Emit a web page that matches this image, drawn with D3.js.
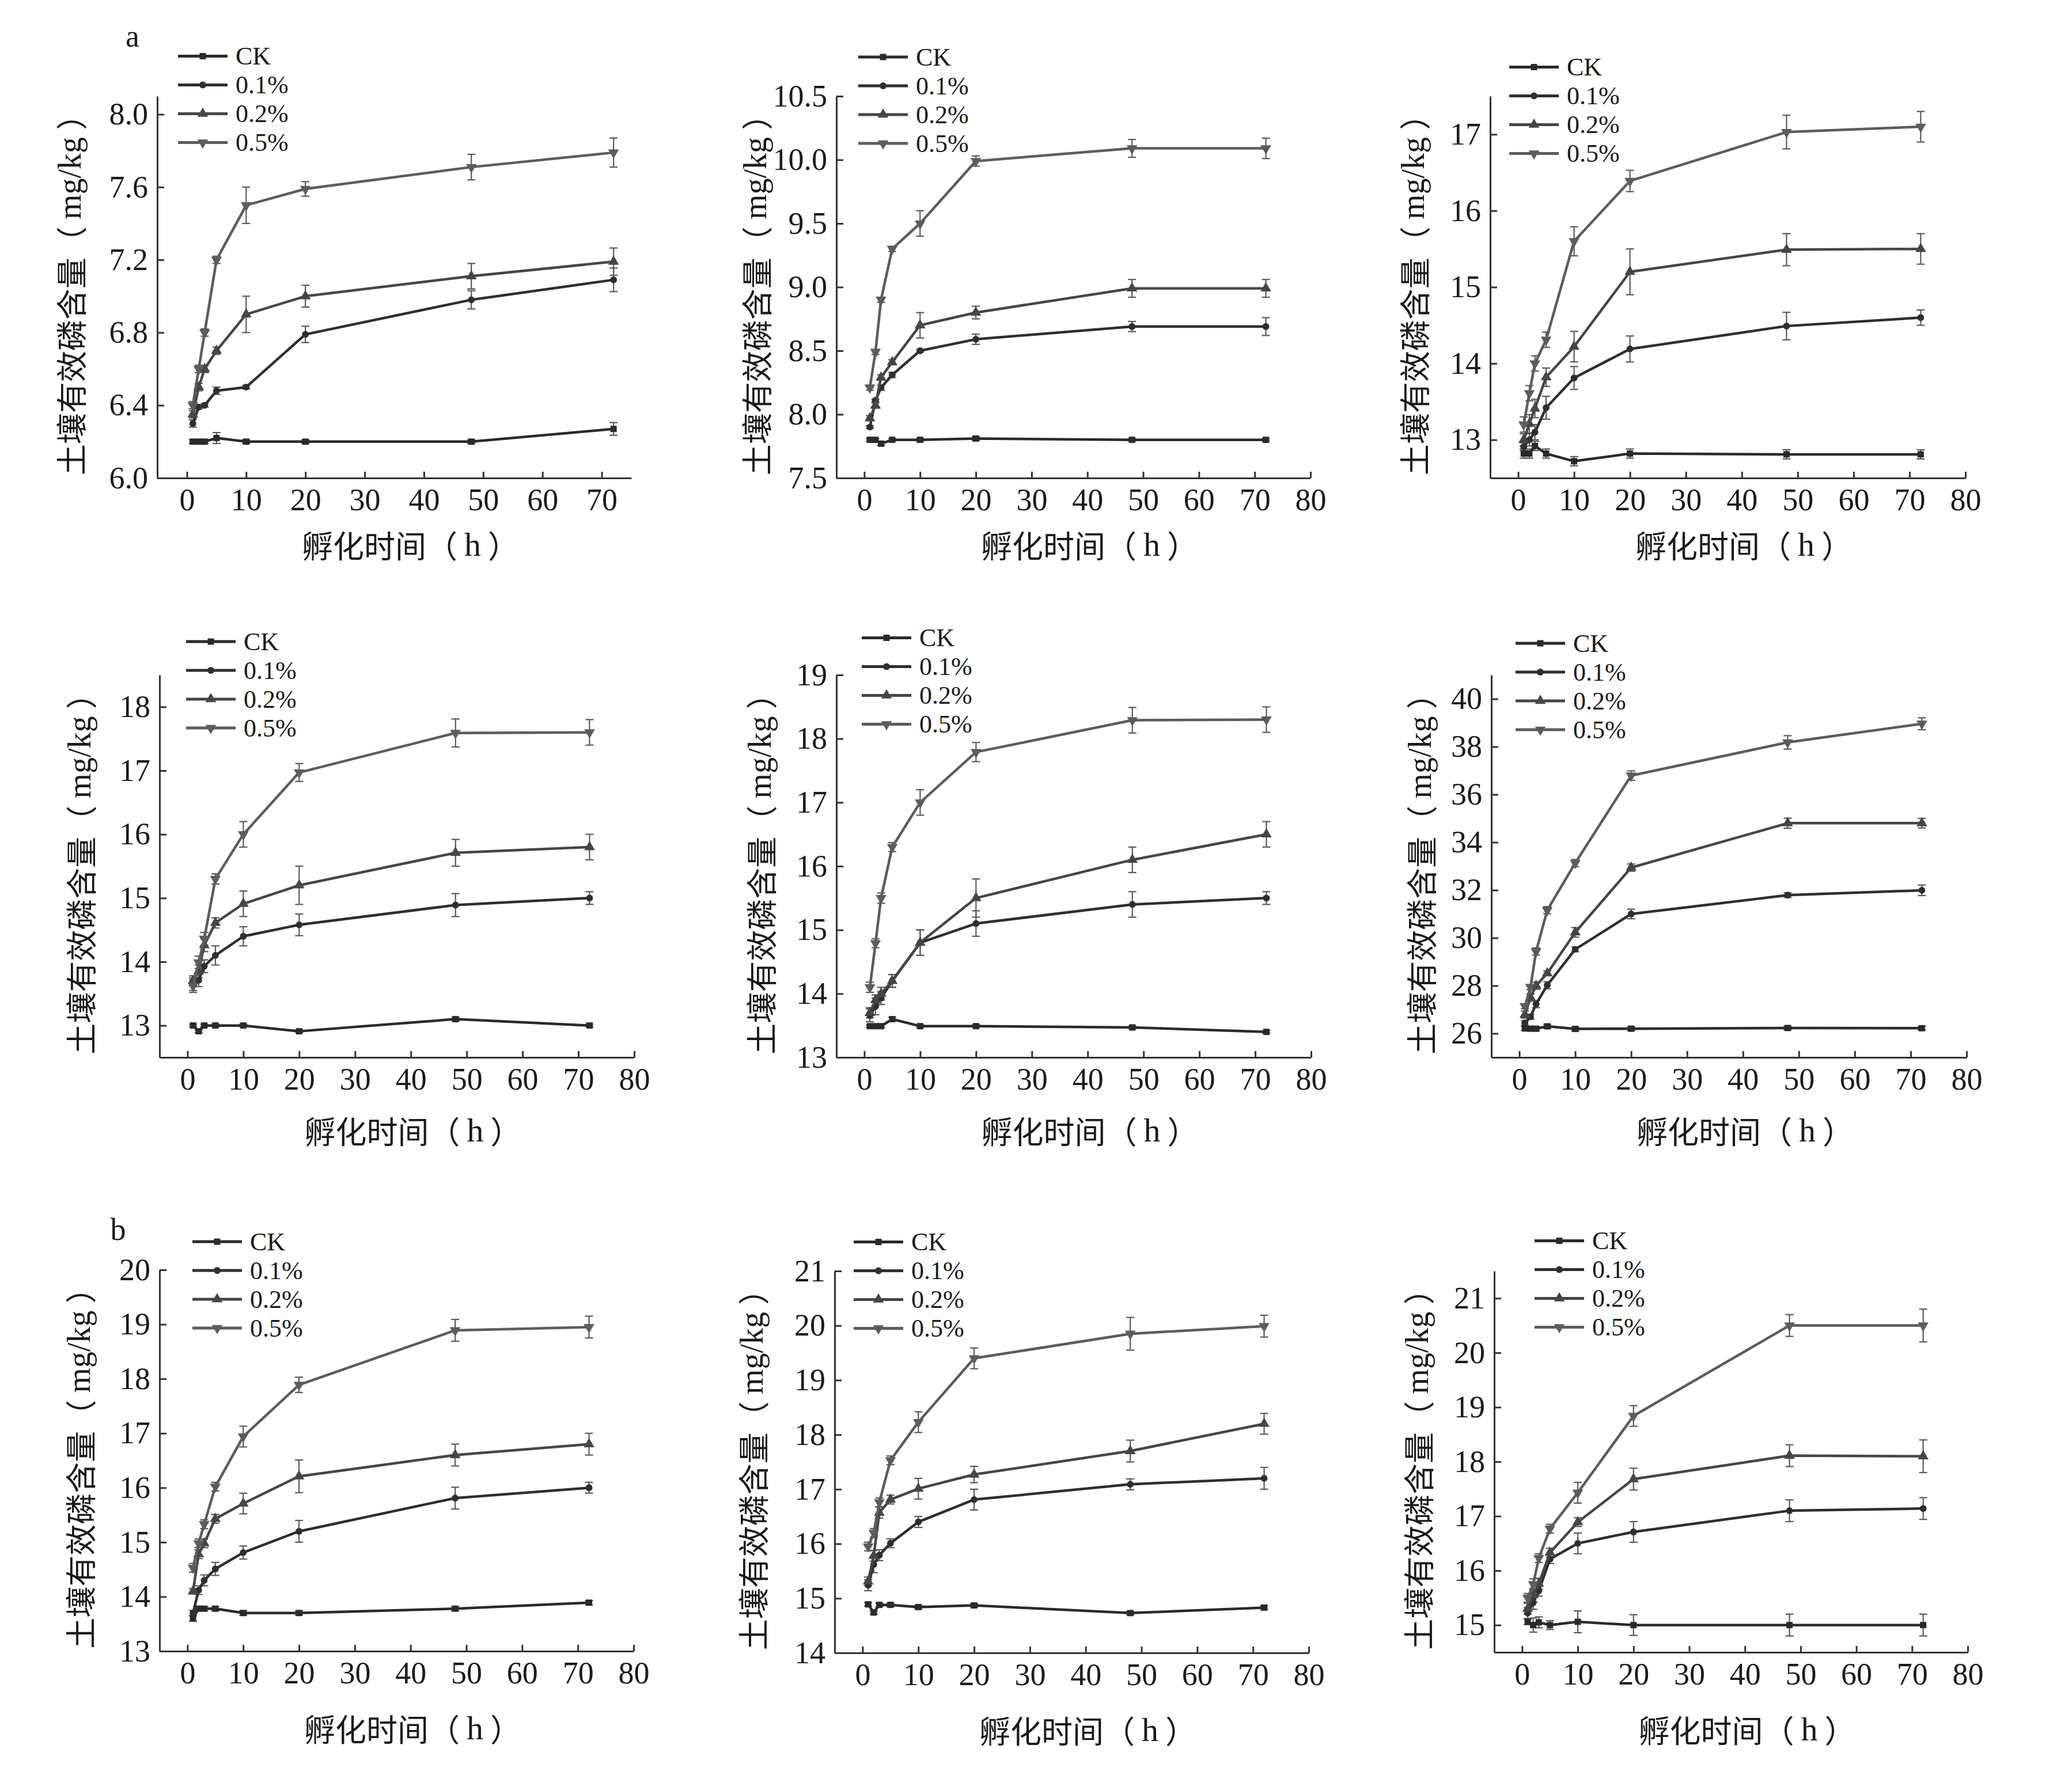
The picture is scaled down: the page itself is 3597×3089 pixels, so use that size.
<!DOCTYPE html>
<html>
<head>
<meta charset="utf-8">
<script src="https://cdn.jsdelivr.net/npm/d3@7"></script>
<style>
  html, body { margin: 0; padding: 0; background: #fff; }
  svg { display: block; }
</style>
</head>
<body>
<div id="chart"></div>
<script>
// ---------------- DATA ----------------
const times = [1, 2, 3, 5, 10, 20, 48, 72];
const seriesNames = ["CK", "0.1%", "0.2%", "0.5%"];
const yTitleCJK = "土壤有效磷含量（ ";
const yTitleLatin = "mg/kg";
const xTitleCJK = "孵化时间（ ";
const xTitleLatin = "h";
const panelLetters = ["a", "b"];

const xTicksShort = [0, 10, 20, 30, 40, 50, 60, 70];
const xTicksLong = [0, 10, 20, 30, 40, 50, 60, 70, 80];

// Panel 1 (row 1, left)
const p1Means = [
  [6.20, 6.20, 6.20, 6.22, 6.20, 6.20, 6.20, 6.27],
  [6.30, 6.39, 6.40, 6.48, 6.50, 6.79, 6.98, 7.09],
  [6.35, 6.50, 6.60, 6.70, 6.90, 7.00, 7.11, 7.19],
  [6.40, 6.60, 6.80, 7.20, 7.50, 7.59, 7.71, 7.79]
];
const p1Errors = [
  [0.01, 0.01, 0.01, 0.03, 0.01, 0.01, 0.01, 0.035],
  [0.02, 0.01, 0.01, 0.02, 0.01, 0.045, 0.05, 0.065],
  [0.02, 0.02, 0.02, 0.02, 0.10, 0.06, 0.07, 0.075],
  [0.02, 0.02, 0.02, 0.02, 0.10, 0.04, 0.07, 0.08]
];
const p1YTicks = [6.0, 6.4, 6.8, 7.2, 7.6, 8.0];

// Panel 2 (row 1, middle)
const p2Means = [
  [7.80, 7.80, 7.77, 7.80, 7.80, 7.81, 7.80, 7.80],
  [7.90, 8.11, 8.21, 8.31, 8.50, 8.59, 8.69, 8.69],
  [7.97, 8.07, 8.29, 8.41, 8.70, 8.80, 8.99, 8.99],
  [8.21, 8.49, 8.90, 9.30, 9.50, 9.99, 10.09, 10.09]
];
const p2Errors = [
  [0.01, 0.01, 0.015, 0.01, 0.01, 0.015, 0.01, 0.01],
  [0.01, 0.01, 0.02, 0.02, 0.01, 0.04, 0.04, 0.07],
  [0.02, 0.02, 0.02, 0.02, 0.10, 0.05, 0.07, 0.07],
  [0.02, 0.02, 0.02, 0.02, 0.10, 0.04, 0.07, 0.08]
];
const p2YTicks = [7.5, 8.0, 8.5, 9.0, 9.5, 10.0, 10.5];

// Panel 3 (row 1, right)
const p3Means = [
  [12.82, 12.82, 12.92, 12.82, 12.72, 12.82, 12.81, 12.81],
  [12.91, 13.00, 13.10, 13.42, 13.81, 14.19, 14.49, 14.60],
  [13.00, 13.21, 13.41, 13.82, 14.22, 15.20, 15.49, 15.50],
  [13.20, 13.61, 14.00, 14.31, 15.60, 16.39, 17.03, 17.10]
];
const p3Errors = [
  [0.06, 0.06, 0.06, 0.06, 0.06, 0.06, 0.06, 0.06],
  [0.05, 0.08, 0.10, 0.15, 0.15, 0.17, 0.18, 0.10],
  [0.08, 0.12, 0.12, 0.12, 0.20, 0.30, 0.21, 0.20],
  [0.10, 0.10, 0.10, 0.10, 0.19, 0.14, 0.22, 0.20]
];
const p3YTicks = [13, 14, 15, 16, 17];

// Panel 4 (row 2, left)
const p4Means = [
  [13.00, 12.91, 13.00, 13.00, 13.00, 12.91, 13.10, 13.00],
  [13.65, 13.71, 13.93, 14.10, 14.40, 14.58, 14.89, 15.00],
  [13.70, 13.85, 14.26, 14.61, 14.91, 15.20, 15.71, 15.80],
  [13.62, 13.99, 14.36, 15.30, 16.00, 16.97, 17.59, 17.60]
];
const p4Errors = [
  [0.02, 0.02, 0.02, 0.02, 0.02, 0.02, 0.03, 0.02],
  [0.10, 0.10, 0.10, 0.15, 0.15, 0.17, 0.18, 0.10],
  [0.08, 0.10, 0.10, 0.08, 0.20, 0.30, 0.21, 0.20],
  [0.10, 0.10, 0.10, 0.08, 0.20, 0.14, 0.22, 0.20]
];
const p4YTicks = [13, 14, 15, 16, 17, 18];

// Panel 5 (row 2, middle)
const p5Means = [
  [13.49, 13.49, 13.49, 13.60, 13.49, 13.49, 13.47, 13.40],
  [13.66, 13.80, 13.93, 14.20, 14.80, 15.10, 15.40, 15.50],
  [13.70, 13.90, 14.00, 14.20, 14.80, 15.50, 16.10, 16.50],
  [14.10, 14.79, 15.50, 16.30, 17.00, 17.79, 18.29, 18.30]
];
const p5Errors = [
  [0.02, 0.02, 0.02, 0.03, 0.02, 0.02, 0.02, 0.02],
  [0.10, 0.13, 0.10, 0.10, 0.20, 0.20, 0.20, 0.10],
  [0.08, 0.08, 0.10, 0.10, 0.20, 0.30, 0.20, 0.20],
  [0.08, 0.07, 0.08, 0.07, 0.20, 0.15, 0.20, 0.20]
];
const p5YTicks = [13, 14, 15, 16, 17, 18, 19];

// Panel 6 (row 2, right)
const p6Means = [
  [26.21, 26.20, 26.20, 26.30, 26.19, 26.20, 26.23, 26.22],
  [26.44, 26.70, 27.23, 28.02, 29.52, 31.00, 31.79, 31.99],
  [26.79, 27.50, 28.00, 28.52, 30.23, 32.94, 34.80, 34.80],
  [27.14, 27.94, 29.43, 31.16, 33.13, 36.79, 38.18, 38.96]
];
const p6Errors = [
  [0.08, 0.08, 0.08, 0.08, 0.08, 0.08, 0.08, 0.08],
  [0.10, 0.10, 0.15, 0.15, 0.10, 0.20, 0.10, 0.22],
  [0.15, 0.15, 0.15, 0.10, 0.20, 0.15, 0.21, 0.20],
  [0.10, 0.10, 0.15, 0.15, 0.15, 0.20, 0.28, 0.25]
];
const p6YTicks = [26, 28, 30, 32, 34, 36, 38, 40];

// Panel 7 (row 3, left)
const p7Means = [
  [13.60, 13.78, 13.78, 13.78, 13.70, 13.70, 13.78, 13.89],
  [13.70, 14.12, 14.30, 14.51, 14.81, 15.20, 15.81, 16.00],
  [14.10, 14.78, 14.98, 15.43, 15.71, 16.21, 16.60, 16.80],
  [14.53, 14.98, 15.33, 16.02, 16.94, 17.89, 18.89, 18.95]
];
const p7Errors = [
  [0.05, 0.04, 0.04, 0.04, 0.04, 0.04, 0.04, 0.04],
  [0.05, 0.08, 0.10, 0.12, 0.12, 0.20, 0.20, 0.10],
  [0.05, 0.08, 0.08, 0.08, 0.19, 0.30, 0.20, 0.20],
  [0.08, 0.08, 0.08, 0.08, 0.19, 0.14, 0.20, 0.20]
];
const p7YTicks = [13, 14, 15, 16, 17, 18, 19, 20];

// Panel 8 (row 3, middle)
const p8Means = [
  [14.89, 14.74, 14.88, 14.88, 14.84, 14.87, 14.73, 14.83],
  [15.24, 15.62, 15.79, 16.01, 16.40, 16.81, 17.09, 17.20],
  [15.31, 15.78, 16.57, 16.81, 17.01, 17.27, 17.70, 18.20],
  [15.95, 16.20, 16.76, 17.53, 18.23, 19.40, 19.85, 19.99]
];
const p8Errors = [
  [0.03, 0.03, 0.03, 0.03, 0.03, 0.03, 0.03, 0.03],
  [0.10, 0.15, 0.10, 0.08, 0.10, 0.19, 0.10, 0.20],
  [0.08, 0.10, 0.10, 0.08, 0.19, 0.15, 0.20, 0.19],
  [0.08, 0.08, 0.08, 0.08, 0.19, 0.19, 0.30, 0.20]
];
const p8YTicks = [14, 15, 16, 17, 18, 19, 20, 21];

// Panel 9 (row 3, right)
const p9Means = [
  [15.06, 15.00, 15.05, 15.00, 15.06, 15.00, 15.00, 15.00],
  [15.22, 15.41, 15.63, 16.21, 16.50, 16.71, 17.10, 17.14],
  [15.30, 15.55, 15.76, 16.33, 16.89, 17.68, 18.11, 18.10],
  [15.50, 15.75, 16.23, 16.77, 17.43, 18.84, 20.50, 20.50]
];
const p9Errors = [
  [0.05, 0.13, 0.10, 0.08, 0.20, 0.19, 0.20, 0.20],
  [0.10, 0.12, 0.10, 0.08, 0.19, 0.19, 0.20, 0.20],
  [0.10, 0.12, 0.10, 0.08, 0.08, 0.20, 0.20, 0.30],
  [0.08, 0.10, 0.08, 0.08, 0.19, 0.19, 0.20, 0.30]
];
const p9YTicks = [15, 16, 17, 18, 19, 20, 21];

// ---------------- LAYOUT / STYLE ----------------
const W = 3597, H = 3089;
const serif = "'Liberation Serif', 'Times New Roman', serif";
const cjk = "'Noto Sans CJK SC', 'Noto Sans CJK JP', sans-serif";
const lineColors = ["#2a2a2a", "#2e2e2e", "#464646", "#5c5c5c"];
const errColor = "#5a5a5a";
const symbols = [d3.symbolSquare, d3.symbolCircle, d3.symbolTriangle, d3.symbolTriangle];
const symbolSizes = [120, 110, 150, 150];
const symbolRotate = [0, 0, 0, 180];
const legendFont = 44;
const legendGap = 50;

const panels = [
  { means: p1Means, errs: p1Errors, yTicks: p1YTicks, yDom: [6.0, 8.1], xDom: [-5, 75], xTicks: xTicksShort, fmt: ".1f",
    left: 273, right: 1096, top: 167, bottom: 830, legDx: 36, legDy: -62, legGap: 45, yTitleDx: -152, xTitleDy: 115 },
  { means: p2Means, errs: p2Errors, yTicks: p2YTicks, yDom: [7.5, 10.5], xDom: [-5, 80], xTicks: xTicksLong, fmt: ".1f",
    left: 1452, right: 2275, top: 167, bottom: 830, legDx: 38, legDy: -65, legGap: 48, yTitleDx: -141, xTitleDy: 115 },
  { means: p3Means, errs: p3Errors, yTicks: p3YTicks, yDom: [12.5, 17.5], xDom: [-5, 80], xTicks: xTicksLong, fmt: "d",
    left: 2587, right: 3412, top: 167, bottom: 830, legDx: 33, legDy: -46, legGap: 47, yTitleDx: -134, xTitleDy: 115 },
  { means: p4Means, errs: p4Errors, yTicks: p4YTicks, yDom: [12.5, 18.5], xDom: [-5, 80], xTicks: xTicksLong, fmt: "d",
    left: 277, right: 1101, top: 1172, bottom: 1836, legDx: 46, legDy: -55, legGap: 48, yTitleDx: -139, xTitleDy: 126 },
  { means: p5Means, errs: p5Errors, yTicks: p5YTicks, yDom: [13, 19], xDom: [-5, 80], xTicks: xTicksLong, fmt: "d",
    left: 1452, right: 2276, top: 1172, bottom: 1836, legDx: 44, legDy: -60, legGap: 47, yTitleDx: -133, xTitleDy: 126 },
  { means: p6Means, errs: p6Errors, yTicks: p6YTicks, yDom: [25, 41], xDom: [-5, 80], xTicks: xTicksLong, fmt: "d",
    left: 2589, right: 3414, top: 1172, bottom: 1836, legDx: 42, legDy: -52, legGap: 48, yTitleDx: -124, xTitleDy: 126 },
  { means: p7Means, errs: p7Errors, yTicks: p7YTicks, yDom: [13, 20], xDom: [-5, 80], xTicks: xTicksLong, fmt: "d",
    left: 277, right: 1100, top: 2205, bottom: 2867, legDx: 57, legDy: -46, legGap: 48, yTitleDx: -140, xTitleDy: 133 },
  { means: p8Means, errs: p8Errors, yTicks: p8YTicks, yDom: [14, 21], xDom: [-5, 80], xTicks: xTicksLong, fmt: "d",
    left: 1449, right: 2272, top: 2207, bottom: 2870, legDx: 33, legDy: -46, legGap: 47, yTitleDx: -144, xTitleDy: 133 },
  { means: p9Means, errs: p9Errors, yTicks: p9YTicks, yDom: [14.5, 21.5], xDom: [-5, 80], xTicks: xTicksLong, fmt: "d",
    left: 2594, right: 3416, top: 2207, bottom: 2869, legDx: 70, legDy: -48, legGap: 47, yTitleDx: -134, xTitleDy: 133 }
];

const svg = d3.select("#chart").append("svg")
  .attr("width", W).attr("height", H)
  .attr("viewBox", `0 0 ${W} ${H}`);
svg.append("rect").attr("width", W).attr("height", H).attr("fill", "#fff");

function symbolPath(i) {
  return d3.symbol().type(symbols[i]).size(symbolSizes[i])();
}

function drawPanel(p) {
  const g = svg.append("g");
  const x = d3.scaleLinear().domain(p.xDom).range([p.left, p.right]);
  const y = d3.scaleLinear().domain(p.yDom).range([p.bottom, p.top]);

  // X axis
  const xa = g.append("g").attr("transform", `translate(0,${p.bottom})`)
    .call(d3.axisBottom(x).tickValues(p.xTicks).tickSizeInner(-11).tickSizeOuter(0).tickPadding(18).tickFormat(d3.format("d")));
  // Y axis
  const ya = g.append("g").attr("transform", `translate(${p.left},0)`)
    .call(d3.axisLeft(y).tickValues(p.yTicks).tickSizeInner(-12).tickSizeOuter(0).tickPadding(16).tickFormat(d3.format(p.fmt)));
  [xa, ya].forEach(a => {
    a.attr("font-family", serif).attr("font-size", 54);
    a.selectAll("path.domain").attr("stroke", "#333").attr("stroke-width", 3);
    a.selectAll(".tick line").attr("stroke", "#333").attr("stroke-width", 3);
    a.selectAll(".tick text").attr("fill", "#1a1a1a");
  });

  // Error bars
  p.means.forEach((ser, si) => {
    const eg = g.append("g").attr("stroke", errColor).attr("stroke-width", 2.2).attr("fill", "none");
    ser.forEach((v, k) => {
      const e = p.errs[si][k];
      const cx = x(times[k]);
      const y1 = y(v - e), y2 = y(v + e);
      eg.append("line").attr("x1", cx).attr("x2", cx).attr("y1", y1).attr("y2", y2);
      eg.append("line").attr("x1", cx - 7).attr("x2", cx + 7).attr("y1", y1).attr("y2", y1);
      eg.append("line").attr("x1", cx - 7).attr("x2", cx + 7).attr("y1", y2).attr("y2", y2);
    });
  });

  // Lines and markers
  const line = d3.line().x((d, k) => x(times[k])).y(d => y(d));
  p.means.forEach((ser, si) => {
    g.append("path").datum(ser).attr("d", line)
      .attr("fill", "none").attr("stroke", lineColors[si]).attr("stroke-width", 4.5)
      .attr("stroke-linejoin", "round");
    g.append("g").selectAll("path").data(ser).join("path")
      .attr("d", symbolPath(si))
      .attr("transform", (d, k) => `translate(${x(times[k])},${y(d)}) rotate(${symbolRotate[si]})`)
      .attr("fill", lineColors[si]);
  });

  // Legend (rows spaced so text boxes do not overlap; block centred on measured rows)
  const lg = g.append("g");
  const centre = p.top + p.legDy + 1.5 * p.legGap;
  seriesNames.forEach((name, si) => {
    const ly = centre + (si - 1.5) * legendGap;
    const lx = p.left + p.legDx;
    lg.append("line").attr("x1", lx).attr("x2", lx + 86).attr("y1", ly).attr("y2", ly)
      .attr("stroke", lineColors[si]).attr("stroke-width", 5);
    lg.append("path").attr("d", symbolPath(si))
      .attr("transform", `translate(${lx + 43},${ly}) rotate(${symbolRotate[si]})`)
      .attr("fill", lineColors[si]);
    lg.append("text").attr("x", lx + 100).attr("y", ly)
      .attr("dominant-baseline", "central")
      .attr("font-family", serif).attr("font-size", legendFont).attr("fill", "#1a1a1a")
      .text(name);
  });

  // Y title
  const cy = (p.top + p.bottom) / 2;
  const yt = g.append("text")
    .attr("transform", `translate(${p.left + p.yTitleDx},${cy}) rotate(-90)`)
    .attr("text-anchor", "middle").attr("dominant-baseline", "central")
    .attr("font-size", 54).attr("fill", "#1a1a1a");
  yt.append("tspan").attr("font-family", cjk).text(yTitleCJK);
  yt.append("tspan").attr("font-family", serif).attr("font-size", 56).text(yTitleLatin);
  yt.append("tspan").attr("font-family", cjk).text(" ）");

  // X title
  const xt = g.append("text")
    .attr("x", (p.left + p.right) / 2 + 28).attr("y", p.bottom + p.xTitleDy)
    .attr("text-anchor", "middle").attr("dominant-baseline", "central")
    .attr("font-size", 54).attr("fill", "#1a1a1a");
  xt.append("tspan").attr("font-family", cjk).text(xTitleCJK);
  xt.append("tspan").attr("font-family", serif).attr("font-size", 58).text(xTitleLatin);
  xt.append("tspan").attr("font-family", cjk).text(" ）");
}

panels.forEach(drawPanel);

// Panel letters
svg.append("text").attr("x", 230).attr("y", 81).attr("text-anchor", "middle")
  .attr("font-family", serif).attr("font-size", 54).attr("fill", "#1a1a1a").text(panelLetters[0]);
svg.append("text").attr("x", 205).attr("y", 2153).attr("text-anchor", "middle")
  .attr("font-family", serif).attr("font-size", 54).attr("fill", "#1a1a1a").text(panelLetters[1]);
</script>
</body>
</html>
